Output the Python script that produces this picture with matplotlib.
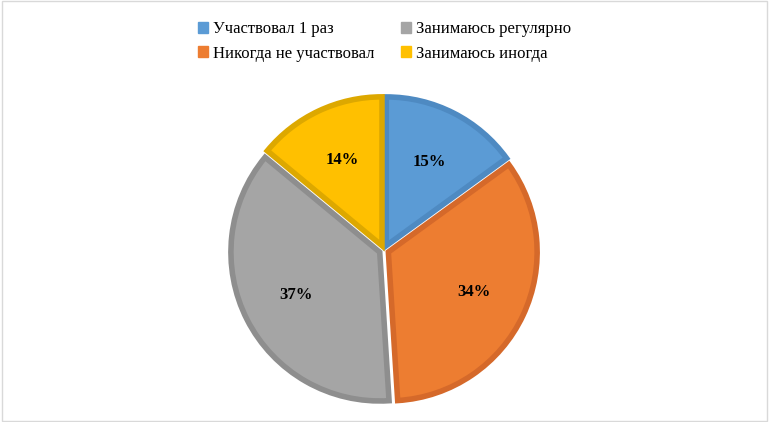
import matplotlib.pyplot as plt
from matplotlib.patches import Rectangle

labels = ['Участвовал 1 раз', 'Никогда не участвовал', 'Занимаюсь регулярно', 'Занимаюсь иногда']
values = [15, 34, 37, 14]
fills = ['#5B9BD5', '#ED7D31', '#A5A5A5', '#FFC000']
edges = ['#4E8AC2', '#D5692A', '#8E8E8E', '#DDA800']

plt.rcParams['font.family'] = ['Liberation Serif', 'DejaVu Serif']

fig = plt.figure(figsize=(7.69, 4.22), dpi=100)
fig.patches.append(Rectangle((0.002, 0.002), 0.996, 0.996, transform=fig.transFigure,
                             fill=False, edgecolor='#D9D9D9', linewidth=1))

ax = fig.add_axes([(384 - 160) / 769, (422 - 250 - 160) / 422, 320 / 769, 320 / 422])
wedges, texts = ax.pie(values, colors=fills, startangle=90, counterclock=False,
                       explode=[0.03] * 4, radius=0.93,
                       wedgeprops=dict(linewidth=4, joinstyle='miter'))
for w, e in zip(wedges, edges):
    w.set_edgecolor(e)
ax.set_xlim(-1, 1)
ax.set_ylim(-1, 1)
ax.set_aspect('equal')

import numpy as np
ang = 90
for v, w in zip(values, wedges):
    mid = np.deg2rad(ang - v * 3.6 / 2)
    ang -= v * 3.6
    r = 0.62
    ax.text(r * np.cos(mid), r * np.sin(mid), f'{v}%', ha='center', va='center',
            fontsize=12, fontweight='bold')

handles = [Rectangle((0, 0), 1, 1, color=c) for c in fills]
fig.legend(handles, labels, loc='upper center', bbox_to_anchor=(0.5, 0.985), ncol=2,
           frameon=False, fontsize=12, handlelength=0.6, handleheight=0.6,
           handletextpad=0.3, columnspacing=1.6, labelspacing=0.5)

fig.savefig('out.png', dpi=100)
